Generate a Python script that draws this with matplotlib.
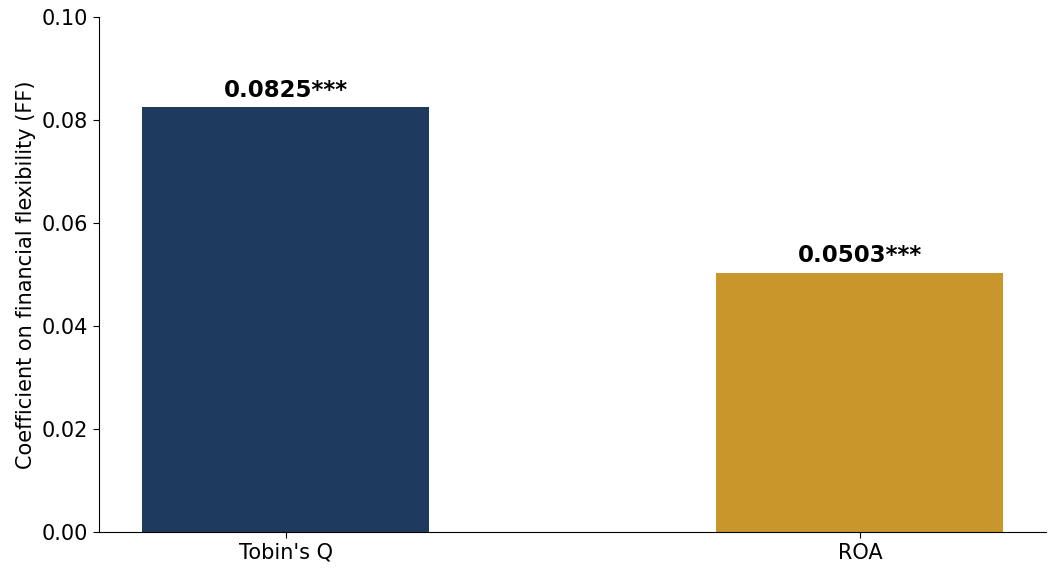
import matplotlib
matplotlib.use("Agg")
import matplotlib.pyplot as plt

categories = ["Tobin's Q", "ROA"]
values = [0.0825, 0.0503]
labels = ["0.0825***", "0.0503***"]
colors = ["#1f3a5f", "#c9962b"]

fig, ax = plt.subplots(figsize=(10.57, 5.73), dpi=100)
x = range(len(categories))
bars = ax.bar(x, values, width=0.5, color=colors)
for b, lab in zip(bars, labels):
    ax.annotate(lab, (b.get_x() + b.get_width() / 2, b.get_height()),
                xytext=(0, 4), textcoords="offset points",
                ha="center", va="bottom", fontsize=16.5, fontweight="bold")
ax.set_xticks(list(x))
ax.set_xticklabels(categories, fontsize=15)
ax.set_ylim(0, 0.10)
ax.set_yticks([0, 0.02, 0.04, 0.06, 0.08, 0.10])
ax.set_yticklabels(["0.00", "0.02", "0.04", "0.06", "0.08", "0.10"], fontsize=15)
ax.set_ylabel("Coefficient on financial flexibility (FF)", fontsize=15)
ax.tick_params(length=4.5)
ax.spines["top"].set_visible(False)
ax.spines["right"].set_visible(False)
fig.subplots_adjust(left=0.094, right=0.99, top=0.97, bottom=0.072)
fig.savefig("out.png")
